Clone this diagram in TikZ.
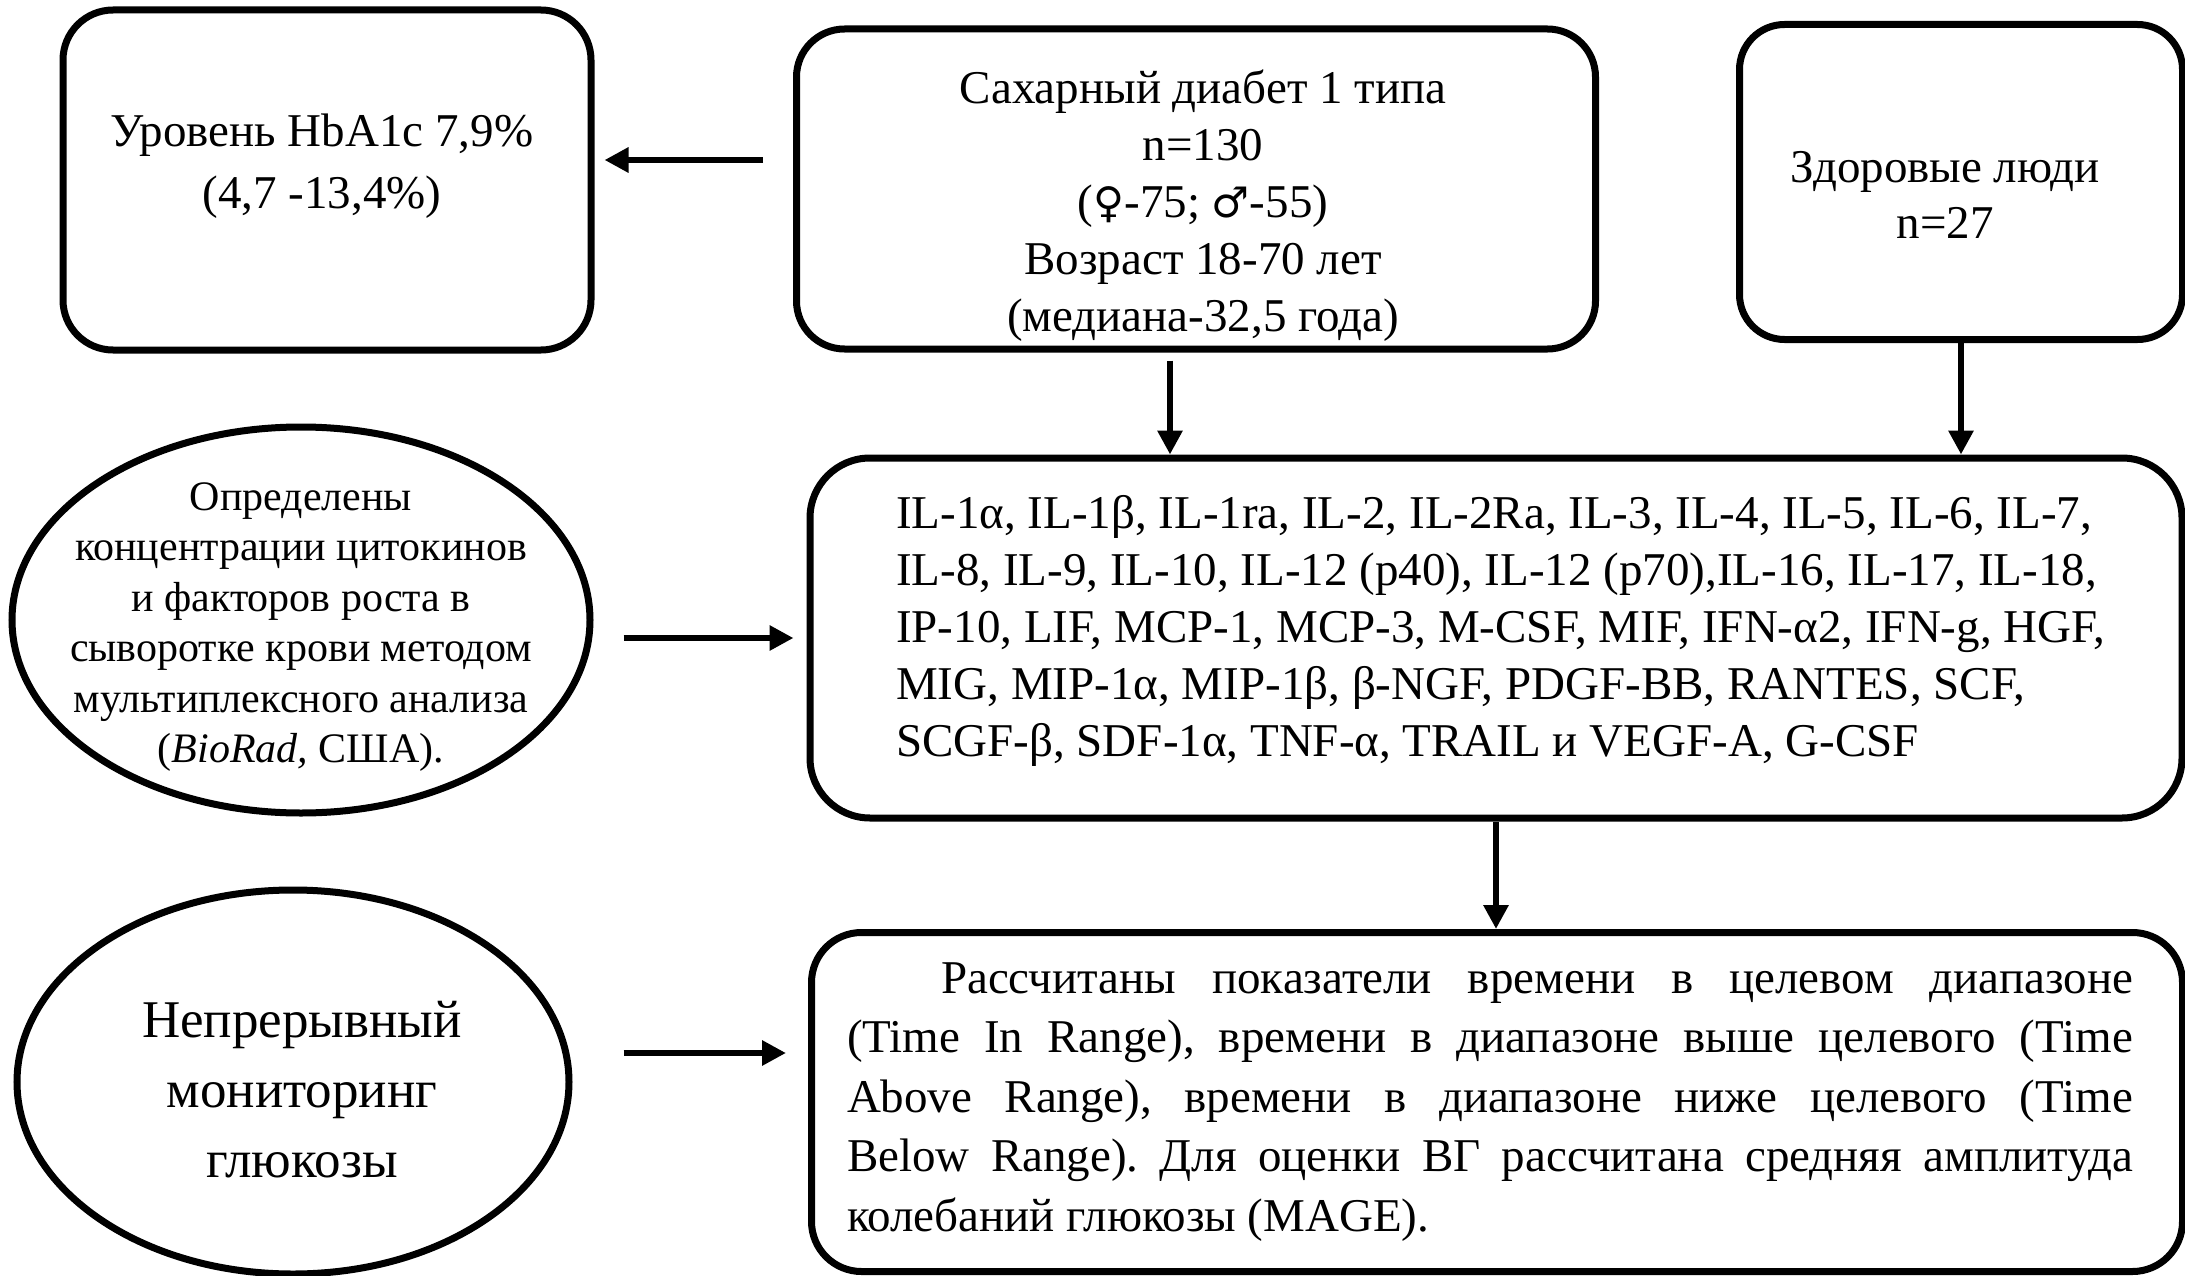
\documentclass[tikz,border=0pt]{standalone}
\usepackage{fontspec}
\setmainfont{Liberation Serif}
\newfontfamily\symf[Scale=0.9]{DejaVu Sans}
\usetikzlibrary{shapes.geometric,arrows.meta}
\frenchspacing
\begin{document}
\begin{tikzpicture}[x=1pt,y=-1pt,
  box/.style={draw, line width=7pt, rounded corners=#1, inner sep=0pt},
  box/.default=50pt,
  oval/.style={draw, ellipse, line width=7pt, inner sep=0pt},
  txt/.style={align=center, inner sep=0pt, font=\fontsize{47pt}{57pt}\selectfont},
  arr/.style={line width=6pt, -{Triangle[length=24pt,width=24pt]}}]
\useasboundingbox[fill=white] (0,0) rectangle (2185,1276);

% boxes
\node[box, minimum width=528pt, minimum height=340pt] (hba) at (327,180) {};
\node[box=48pt, minimum width=799pt, minimum height=320pt] (diab) at (1196,189) {};
\node[box=45pt, minimum width=443pt, minimum height=315pt] (healthy) at (1961,182) {};
\node[box=60pt, minimum width=1372pt, minimum height=360pt] (cyto) at (1496,638) {};
\node[oval, minimum width=578pt, minimum height=386pt] (meth) at (301,620) {};
\node[box, minimum width=1371pt, minimum height=339pt] (calc) at (1497,1102) {};
\node[oval, minimum width=552pt, minimum height=384pt] (cgm) at (293,1082) {};

% texts
\node[txt, font=\fontsize{47pt}{62pt}\selectfont] (hbat) at (322,166) {Уровень HbA1c 7,9\%\\(4,7 -13,4\%)};
\node[txt] (diabt) at (1203,206) {Сахарный диабет 1 типа\\n=130\\({\symf ♀}-75; {\symf ♂}-55)\\Возраст 18-70 лет\\(медиана-32,5 года)};
\node[txt, font=\fontsize{47pt}{56pt}\selectfont] (healthyt) at (1945,195) {Здоровые люди\\n=27};
\node[txt, align=left, anchor=west] (cytot) at (896,631) {IL-1α, IL-1β, IL-1ra, IL-2, IL-2Ra, IL-3, IL-4, IL-5, IL-6, IL-7,\\
IL-8, IL-9, IL-10, IL-12 (p40), IL-12 (p70),IL-16, IL-17, IL-18,\\
IP-10, LIF, MCP-1, MCP-3, M-CSF, MIF, IFN-α2, IFN-g, HGF,\\
MIG, MIP-1α, MIP-1β, β-NGF, PDGF-BB, RANTES, SCF,\\
SCGF-β, SDF-1α, TNF-α, TRAIL и VEGF-A, G-CSF};
\node[txt, font=\fontsize{42pt}{50.5pt}\selectfont] (metht) at (301,627) {Определены\\концентрации цитокинов\\и факторов роста в\\сыворотке крови методом\\мультиплексного анализа\\(\textit{BioRad,} США).};
\node[txt, align=justify, text width=1286pt, font=\fontsize{47pt}{59.5pt}\selectfont] (calct) at (1490,1102) {\hspace*{94pt}Рассчитаны показатели времени в целевом диапазоне\linebreak
(Time In Range), времени в диапазоне выше целевого (Time\linebreak
Above Range), времени в диапазоне ниже целевого (Time\linebreak
Below Range). Для оценки ВГ рассчитана средняя амплитуда\linebreak
колебаний глюкозы (MAGE).};
\node[txt, font=\fontsize{53pt}{70pt}\selectfont] (cgmt) at (302,1090) {Непрерывный\\мониторинг\\глюкозы};

% connectors
\path (diab.west) ++(0,-29) coordinate (d1);
\draw[arr, shorten <=30pt, shorten >=10pt] (d1) -- (d1 -| hba.east);
\draw[arr, shorten <=8pt] ([xshift=-26pt]diab.south) -- ([xshift=-26pt]diab.south |- cyto.north);
\draw[arr] (healthy.south) -- (healthy.south |- cyto.north);
\draw[arr, shorten <=30pt, shorten >=13pt] (meth.east |- cyto.west) -- (cyto.west);
\draw[arr] (cyto.south) -- (cyto.south |- calc.north);
\path (cgm.east) ++(0,-29) coordinate (c1);
\draw[arr, shorten <=51pt, shorten >=22pt] (c1) -- (c1 -| calc.west);
\end{tikzpicture}
\end{document}
